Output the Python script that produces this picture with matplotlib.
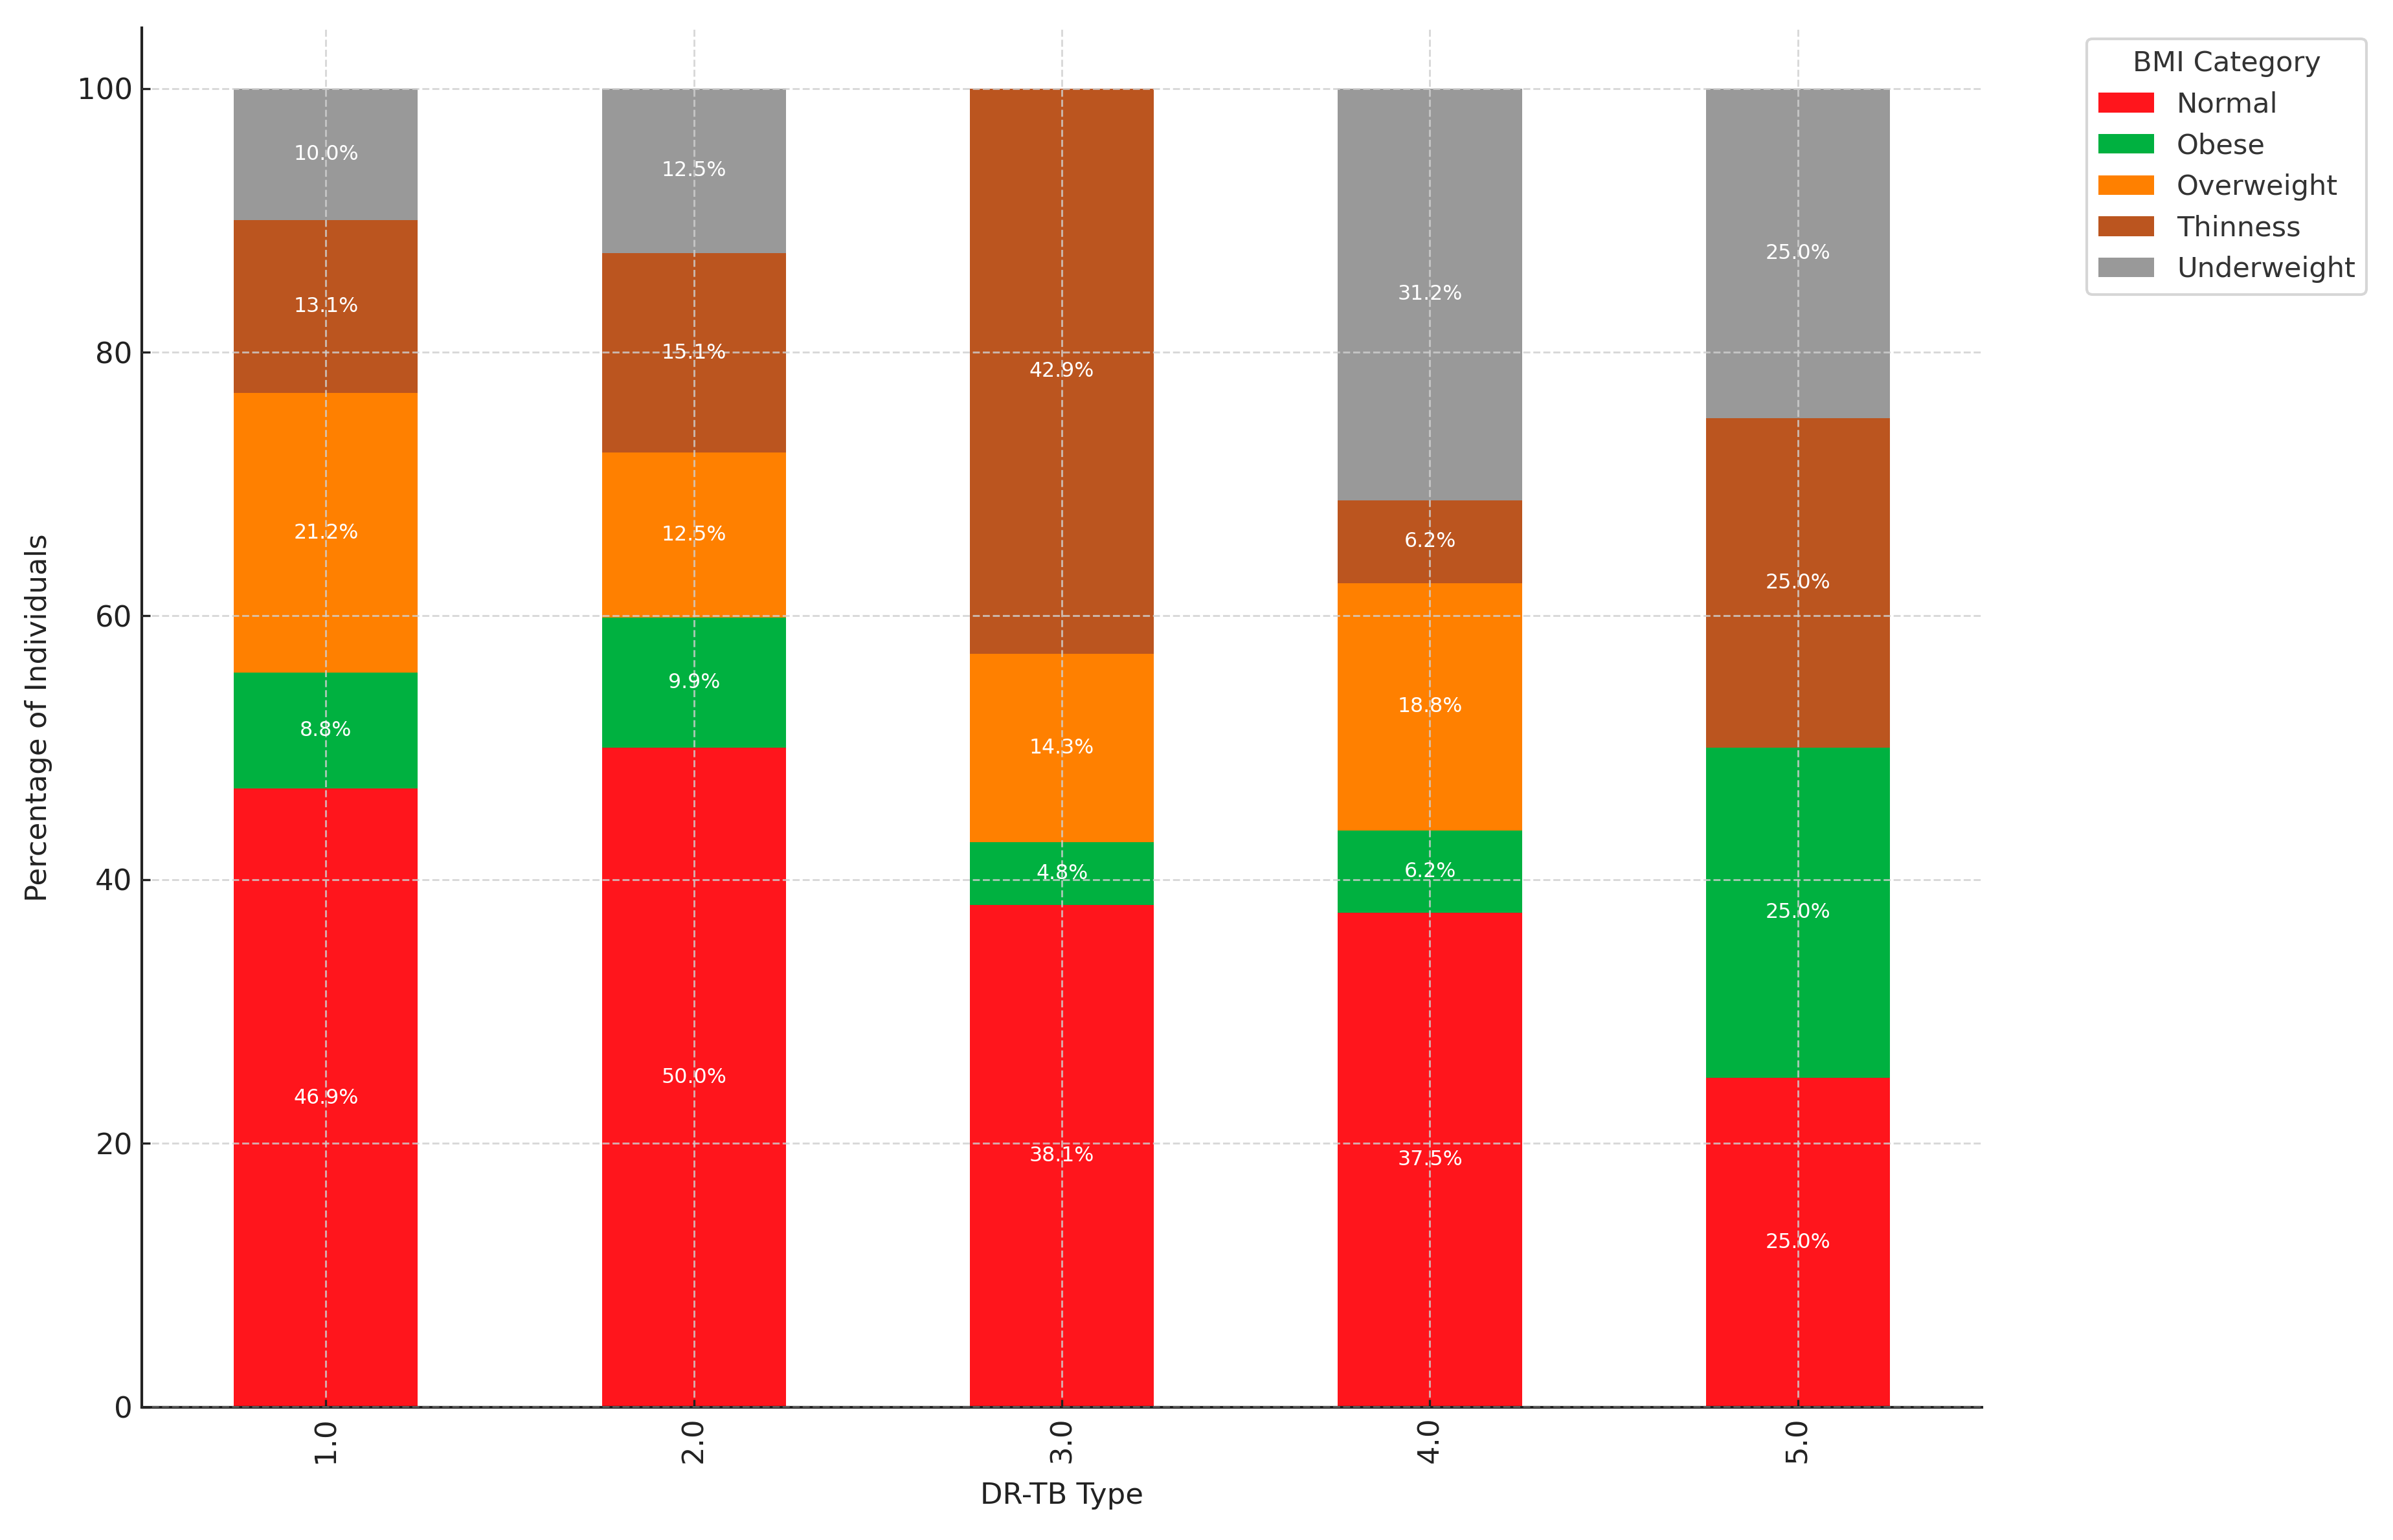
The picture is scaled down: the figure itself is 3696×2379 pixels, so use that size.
import pandas as pd
import matplotlib.pyplot as plt

dr_tb_types = ['1.0', '2.0', '3.0', '4.0', '5.0']
bmi_categories = ['Normal', 'Obese', 'Overweight', 'Thinness', 'Underweight']

normal = [46.9, 50.0, 38.095, 37.5, 25.0]
obese = [8.8, 9.9, 4.762, 6.25, 25.0]
overweight = [21.2, 12.5, 14.286, 18.75, 0.0]
thinness = [13.1, 15.1, 42.857, 6.25, 25.0]
underweight = [10.0, 12.5, 0.0, 31.25, 25.0]

colors = ['#ff151c', '#00b140', '#ff8000', '#bb551f', '#999999']

df = pd.DataFrame({'Normal': normal, 'Obese': obese, 'Overweight': overweight,
                   'Thinness': thinness, 'Underweight': underweight},
                  index=dr_tb_types)

fig = plt.figure(figsize=(12.323, 7.93), dpi=300)
ax = fig.add_axes([0.0593, 0.0862, 0.7687, 0.8958])

df.plot(ax=ax, kind='bar', stacked=True, width=0.5, color=colors, legend=False)

# percentage labels in the middle of each segment
for container in ax.containers:
    labels = ['%.1f%%' % v if v > 0 else '' for v in container.datavalues]
    ax.bar_label(container, labels=labels, label_type='center',
                 color='white', fontsize=7.6)

ax.set_ylim(0, 104.6)
ax.grid(True, linestyle='--', color='#cfcfcf', linewidth=0.7, alpha=0.8)
ax.set_axisbelow(False)
for side in ['top', 'right']:
    ax.spines[side].set_visible(False)
for side in ['left', 'bottom']:
    ax.spines[side].set_color('#222222')
    ax.spines[side].set_linewidth(1.0)

ax.tick_params(axis='both', direction='in', labelsize=10.8, colors='#222222', length=3)
ax.tick_params(axis='x', rotation=90)
ax.set_xlabel('DR-TB Type', fontsize=10.8, color='#222222', labelpad=7)
ax.set_ylabel('Percentage of Individuals', fontsize=10.8, color='#222222', labelpad=9)

leg = ax.legend(title='BMI Category', loc='upper left',
                bbox_to_anchor=(0.866, 0.984), bbox_transform=fig.transFigure,
                fontsize=10.4, title_fontsize=10.4, frameon=True)
leg.get_frame().set_edgecolor('#cccccc')
for t in leg.get_texts():
    t.set_color('#333333')
leg.get_title().set_color('#333333')

fig.savefig('out.png', dpi=300)
